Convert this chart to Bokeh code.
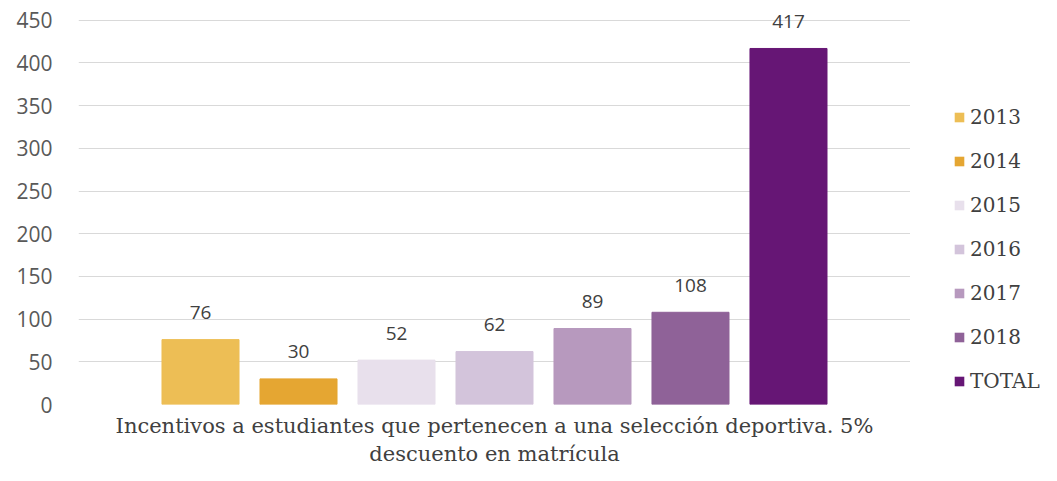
from bokeh.plotting import figure
from bokeh.layouts import row
from bokeh.models import FactorRange, Range1d, ColumnDataSource, Legend, LegendItem, LabelSet, Title
from bokeh.core.properties import value
from bokeh.embed import file_html
from bokeh.resources import INLINE

years = ["2013", "2014", "2015", "2016", "2017", "2018", "TOTAL"]
values = [76, 30, 52, 62, 89, 108, 417]
colors = ["#EDBE55", "#E5A632", "#E8E0EC", "#D3C4DB", "#B799BE", "#8F6298", "#661675"]
category_lines = ["Incentivos a estudiantes que pertenecen a una selección deportiva. 5%",
                  "descuento en matrícula"]
yticks = [0, 50, 100, 150, 200, 250, 300, 350, 400, 450]

src = ColumnDataSource(dict(x=years, top=values, color=colors, label=[str(v) for v in values]))

p = figure(width=910, height=461, output_backend="svg", toolbar_location=None,
           x_range=FactorRange(factors=years, range_padding=0.745, range_padding_units="absolute"),
           y_range=Range1d(0, 465),
           min_border_left=78, min_border_right=0, min_border_top=7, min_border_bottom=0)
p.outline_line_color = None
p.background_fill_color = "white"

r = p.vbar(x="x", top="top", width=0.786, color="color", source=src)

labels = LabelSet(x="x", y="top", text="label", source=src, text_align="center", text_baseline="middle",
                  y_offset=27, text_font=value("Open Sans"), text_font_size=value("19px"),
                  text_color="#404040")
p.add_layout(labels)

p.yaxis.ticker = yticks
p.yaxis.axis_line_color = None
p.yaxis.major_tick_line_color = None
p.yaxis.minor_tick_line_color = None
p.yaxis.major_label_standoff = 20
p.yaxis.major_label_text_font = "Open Sans"
p.yaxis.major_label_text_font_size = "21px"
p.yaxis.major_label_text_color = "#595959"

p.xaxis.visible = False

p.xgrid.grid_line_color = None
p.ygrid.grid_line_color = "#D9D9D9"
p.ygrid.grid_line_width = 1

for i, line in enumerate(category_lines):
    t = Title(text=line, align="center", text_font="DejaVu Serif", text_font_style="normal",
              text_font_size="21px", text_color="#404040", standoff=-9 if i else 14)
    p.add_layout(t, "below")

# legend panel
p2 = figure(width=131, height=465, output_backend="svg", toolbar_location=None,
            x_range=FactorRange(factors=years), y_range=Range1d(0, 465),
            min_border_left=0, min_border_right=0, min_border_top=0, min_border_bottom=0)
p2.outline_line_color = None
p2.axis.visible = False
p2.grid.visible = False
r2 = p2.vbar(x="x", top="top", bottom="top", width=0.786, fill_color="color",
             line_alpha=0, source=src)

items = [LegendItem(label=y, renderers=[r2], index=i) for i, y in enumerate(years)]
legend = Legend(items=items, location=(43, 15), border_line_color=None, background_fill_alpha=0,
                padding=0, margin=0, glyph_width=12, glyph_height=12, label_standoff=5,
                label_height=24, spacing=20, label_text_font="DejaVu Serif",
                label_text_font_size="20px", label_text_color="#404040")
p2.add_layout(legend, "center")

layout = row(p, p2)
open("out.html", "w").write(file_html(layout, INLINE))
